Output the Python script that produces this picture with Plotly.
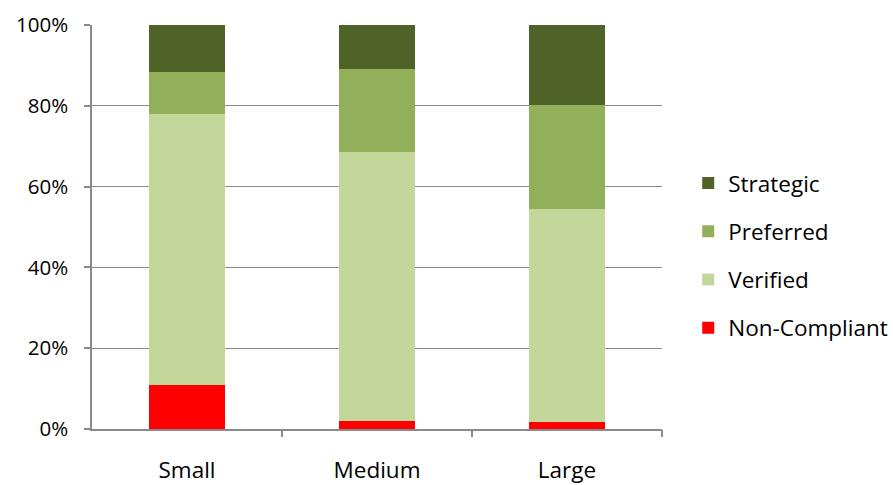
import plotly.graph_objects as go

# Share of suppliers by status, per company size (percent)
categories = ["Small", "Medium", "Large"]
non_compliant = [10.9, 2.1, 1.7]
verified = [67.0, 66.5, 52.8]
preferred = [10.5, 20.5, 25.6]
strategic = [11.6, 10.9, 19.9]

series = [
    ("Non-Compliant", non_compliant, "#FF0000"),
    ("Verified", verified, "#C4D79B"),
    ("Preferred", preferred, "#92B05A"),
    ("Strategic", strategic, "#4F6228"),
]

positions = list(range(1, len(categories) + 1))
FONT = "Open Sans, sans-serif"
GRID = "#8A8A8A"

fig = go.Figure()
for i, (name, vals, color) in enumerate(series):
    fig.add_trace(go.Bar(
        x=positions, y=vals, name=name,
        marker=dict(color=color, line=dict(width=0)),
        legendgroup=f"g{i}",
        legendrank=100 - i,
    ))

# Invisible trace on a twin axis that carries the category-boundary tick marks
fig.add_trace(go.Scatter(x=[0.5], y=[0], xaxis="x2", mode="markers",
                         marker=dict(opacity=0), showlegend=False, hoverinfo="skip"))

fig.update_layout(
    barmode="stack",
    bargap=0.6,
    width=893, height=485,
    margin=dict(l=92, r=231, t=25, b=56, autoexpand=False),
    paper_bgcolor="white", plot_bgcolor="white",
    font=dict(family=FONT, size=20, color="#000000"),
    showlegend=True,
    legend=dict(
        traceorder="grouped",
        tracegroupgap=16,
        x=1.046, xanchor="left", y=0.43, yanchor="middle",
        font=dict(family=FONT, size=22.5, color="#000000"),
        itemwidth=30,
        bgcolor="rgba(0,0,0,0)",
    ),
    xaxis=dict(
        range=[0.5, len(categories) + 0.5],
        tickvals=positions, ticktext=categories,
        ticks="", showgrid=False, zeroline=False,
        showline=True, linecolor=GRID, linewidth=1.5,
        tickfont=dict(family=FONT, size=22.5),
        ticklabelstandoff=20,
        automargin=False,
        fixedrange=True,
    ),
    xaxis2=dict(
        range=[0.5, len(categories) + 0.5],
        overlaying="x", anchor="y", side="bottom",
        tickvals=[p + 0.5 for p in positions],
        ticks="outside", ticklen=7, tickcolor=GRID, tickwidth=1.5,
        showticklabels=False, showgrid=False, zeroline=False, showline=False,
        automargin=False,
    ),
    yaxis=dict(
        range=[0, 100],
        tickvals=[0, 20, 40, 60, 80, 100],
        ticktext=["0%", "20%", "40%", "60%", "80%", "100%"],
        ticks="outside", ticklen=6, tickcolor=GRID, tickwidth=1.5,
        showgrid=True, gridcolor=GRID, gridwidth=1.2,
        zeroline=False,
        showline=True, linecolor=GRID, linewidth=1.5,
        tickfont=dict(family=FONT, size=20.5),
        ticklabelstandoff=12,
        automargin=False,
    ),
)

fig.write_html("out.html")
